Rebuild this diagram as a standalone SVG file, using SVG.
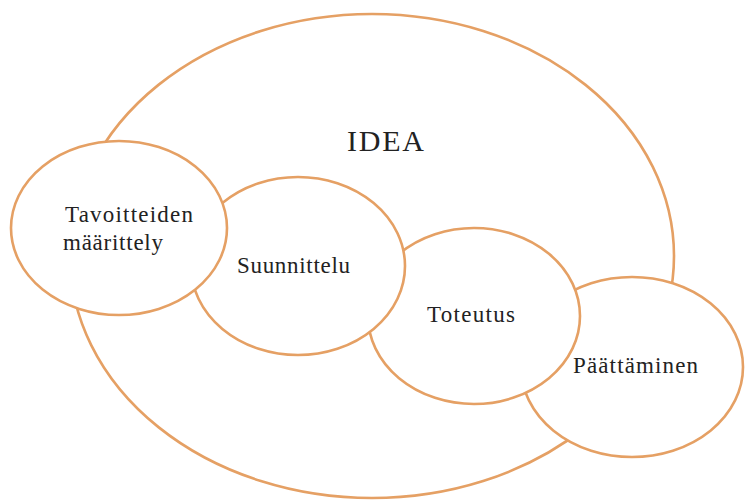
<svg xmlns="http://www.w3.org/2000/svg" width="745" height="501" viewBox="0 0 745 501">
<style>
.c{fill:#fff;stroke:#E5A064;stroke-width:2.6}
.t{font-family:"Liberation Serif","Times New Roman",serif;font-size:23px;fill:#222}
.big{font-size:30px}
</style>
<rect width="745" height="501" fill="#fff"/>
<g id="idea">
<ellipse class="c" cx="372" cy="256" rx="302" ry="242"/>
<text class="t big" x="347" y="151" textLength="77">IDEA</text>
</g>
<g id="paattaminen">
<ellipse class="c" cx="632" cy="367" rx="111" ry="90"/>
<text class="t" x="573" y="373" textLength="125">Päättäminen</text>
</g>
<g id="toteutus">
<ellipse class="c" cx="474" cy="316" rx="106" ry="88"/>
<text class="t" x="427" y="322" textLength="88">Toteutus</text>
</g>
<g id="suunnittelu">
<ellipse class="c" cx="298" cy="266" rx="107" ry="89"/>
<text class="t" x="237" y="273" textLength="113">Suunnittelu</text>
</g>
<g id="tavoitteiden">
<ellipse class="c" cx="119" cy="228" rx="108" ry="87"/>
<text class="t" x="65" y="222" textLength="128">Tavoitteiden</text>
<text class="t" x="63" y="250" textLength="100">määrittely</text>
</g>
<g id="connectors"/>
</svg>
